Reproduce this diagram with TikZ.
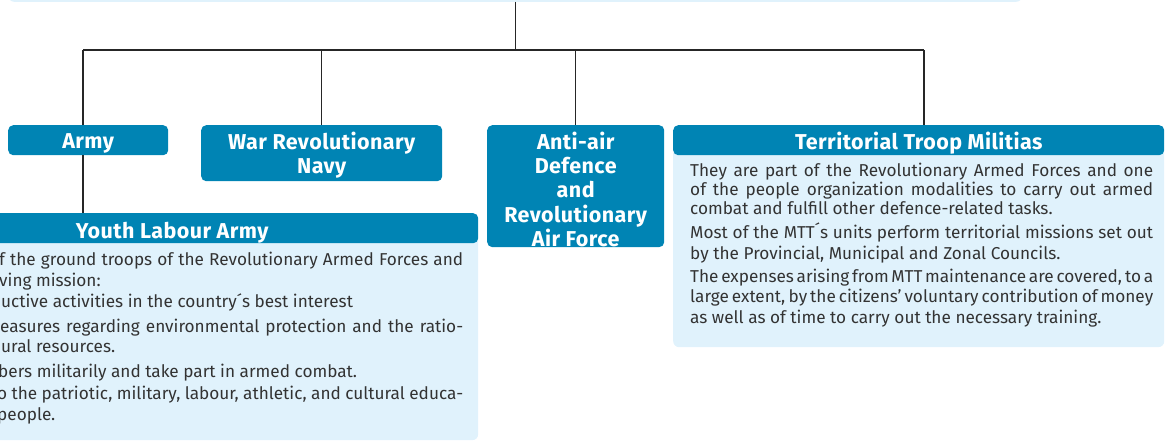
\documentclass[tikz,border=0pt]{standalone}
\usepackage{fontspec}
\setmainfont{Fira Sans}
\newfontfamily\hdfont{Fira Sans}[LetterSpace=2]
\definecolor{dk}{HTML}{0084B4}
\definecolor{lt}{HTML}{E0F2FC}
\definecolor{tx}{HTML}{333333}
\newcommand{\jl}[2]{\makebox[#1pt][s]{\spaceskip=\fontdimen2\font plus 3\fontdimen3\font minus 0.5\fontdimen2\font #2}}
\newcommand{\hd}[2]{\raisebox{-#1pt}[\height][\depth]{\begin{tabular}{@{}c@{}}#2\end{tabular}}}
\begin{document}
\begin{tikzpicture}[x=1pt,y=-1pt,
  hdr/.style={fill=dk, rounded corners=5pt, text=white, font=\hdfont\fontsize{21.5}{24}\selectfont\bfseries, inner sep=0pt},
  bodybox/.style={fill=lt, rounded corners=6pt, inner sep=0pt},
  ln/.style={anchor=base west, inner sep=0pt, text=tx, font=\fontsize{17.2}{20}\selectfont},
  conn/.style={draw=black!85, line width=1.1pt}]
\useasboundingbox (0,0) rectangle (1166,441);
\clip (0,0) rectangle (1166,441);
% top box
\node[bodybox, minimum width=1014pt, minimum height=40pt, anchor=south west] (top) at (8,2) {};
% coordinates of the bus
\coordinate (busL) at (83,50);
\coordinate (busR) at (924,50);
% boxes
\node[hdr, minimum width=160pt, minimum height=30pt, anchor=north west] (army) at (8,125) {\hd{3}{Army}};
\node[hdr, minimum width=241pt, minimum height=56pt, anchor=north west] (navy) at (201,125) {\hd{3}{War Revolutionary\\Navy}};
\node[hdr, minimum width=177pt, minimum height=121pt, anchor=north west] (air) at (487,125) {\hd{7}{Anti-air\\Defence\\and\\Revolutionary\\Air Force}};
\node[bodybox, minimum width=491pt, minimum height=200pt, anchor=north west] (ttmb) at (673,147) {};
\node[bodybox, minimum width=612pt, minimum height=205pt, anchor=north west] (youthb) at (-134,235) {};
% connectors
\draw[conn] (top.south) -- (top.south |- busL);
\draw[conn] (busL) -- (busR);
\draw[conn] (busL) -- (busL |- army.north);
\draw[conn] (navy.north |- busL) -- (navy.north);
\draw[conn] (air.north |- busL) -- (air.north);
\draw[conn] (busR) -- (busR |- 0,125);
\draw[conn] (army.south -| busL) -- (busL |- 0,213);
% headers
\node[hdr, minimum width=491pt, minimum height=30pt, anchor=north west] (ttm) at (673,125) {\hd{4}{Territorial Troop Militias}};
\node[hdr, minimum width=612pt, minimum height=30pt, anchor=north west] (youth) at (-134,213) {\hd{5}{Youth Labour Army}};
% territorial text
\node[ln] (t1) at (690,176) {\jl{463}{They are part of the Revolutionary Armed Forces and one}};
\node[ln] (t2) at (690,195) {\jl{463}{of the people organization modalities to carry out armed}};
\node[ln] (t3) at (690,214) {combat and fulfill other defence-related tasks.};
\node[ln] (t4) at (690,238) {\jl{463}{Most of the MTT´s units perform territorial missions set out}};
\node[ln] (t5) at (690,259) {by the Provincial, Municipal and Zonal Councils.};
\node[ln] (t6) at (690,282) {\jl{463}{The expenses arising from MTT maintenance are covered, to a}};
\node[ln] (t7) at (690,302) {\jl{463}{large extent, by the citizens’ voluntary contribution of money}};
\node[ln] (t8) at (690,323) {as well as of time to carry out the necessary training.};
% youth text
\node[ln] (y1) at (-1,265) {\jl{464}{f the ground troops of the Revolutionary Armed Forces and}};
\node[ln] (y2) at (-1,286) {ving mission:};
\node[ln] (y3) at (1,307) {uctive activities in the country´s best interest};
\node[ln] (y4) at (0,332) {\jl{463}{easures regarding environmental protection and the ratio-}};
\node[ln] (y5) at (1,352) {ural resources.};
\node[ln] (y6) at (-2,377) {bers militarily and take part in armed combat.};
\node[ln] (y7) at (-3,399) {\jl{466}{o the patriotic, military, labour, athletic, and cultural educa-}};
\node[ln] (y8) at (-3,420) {people.};
\end{tikzpicture}
\end{document}
